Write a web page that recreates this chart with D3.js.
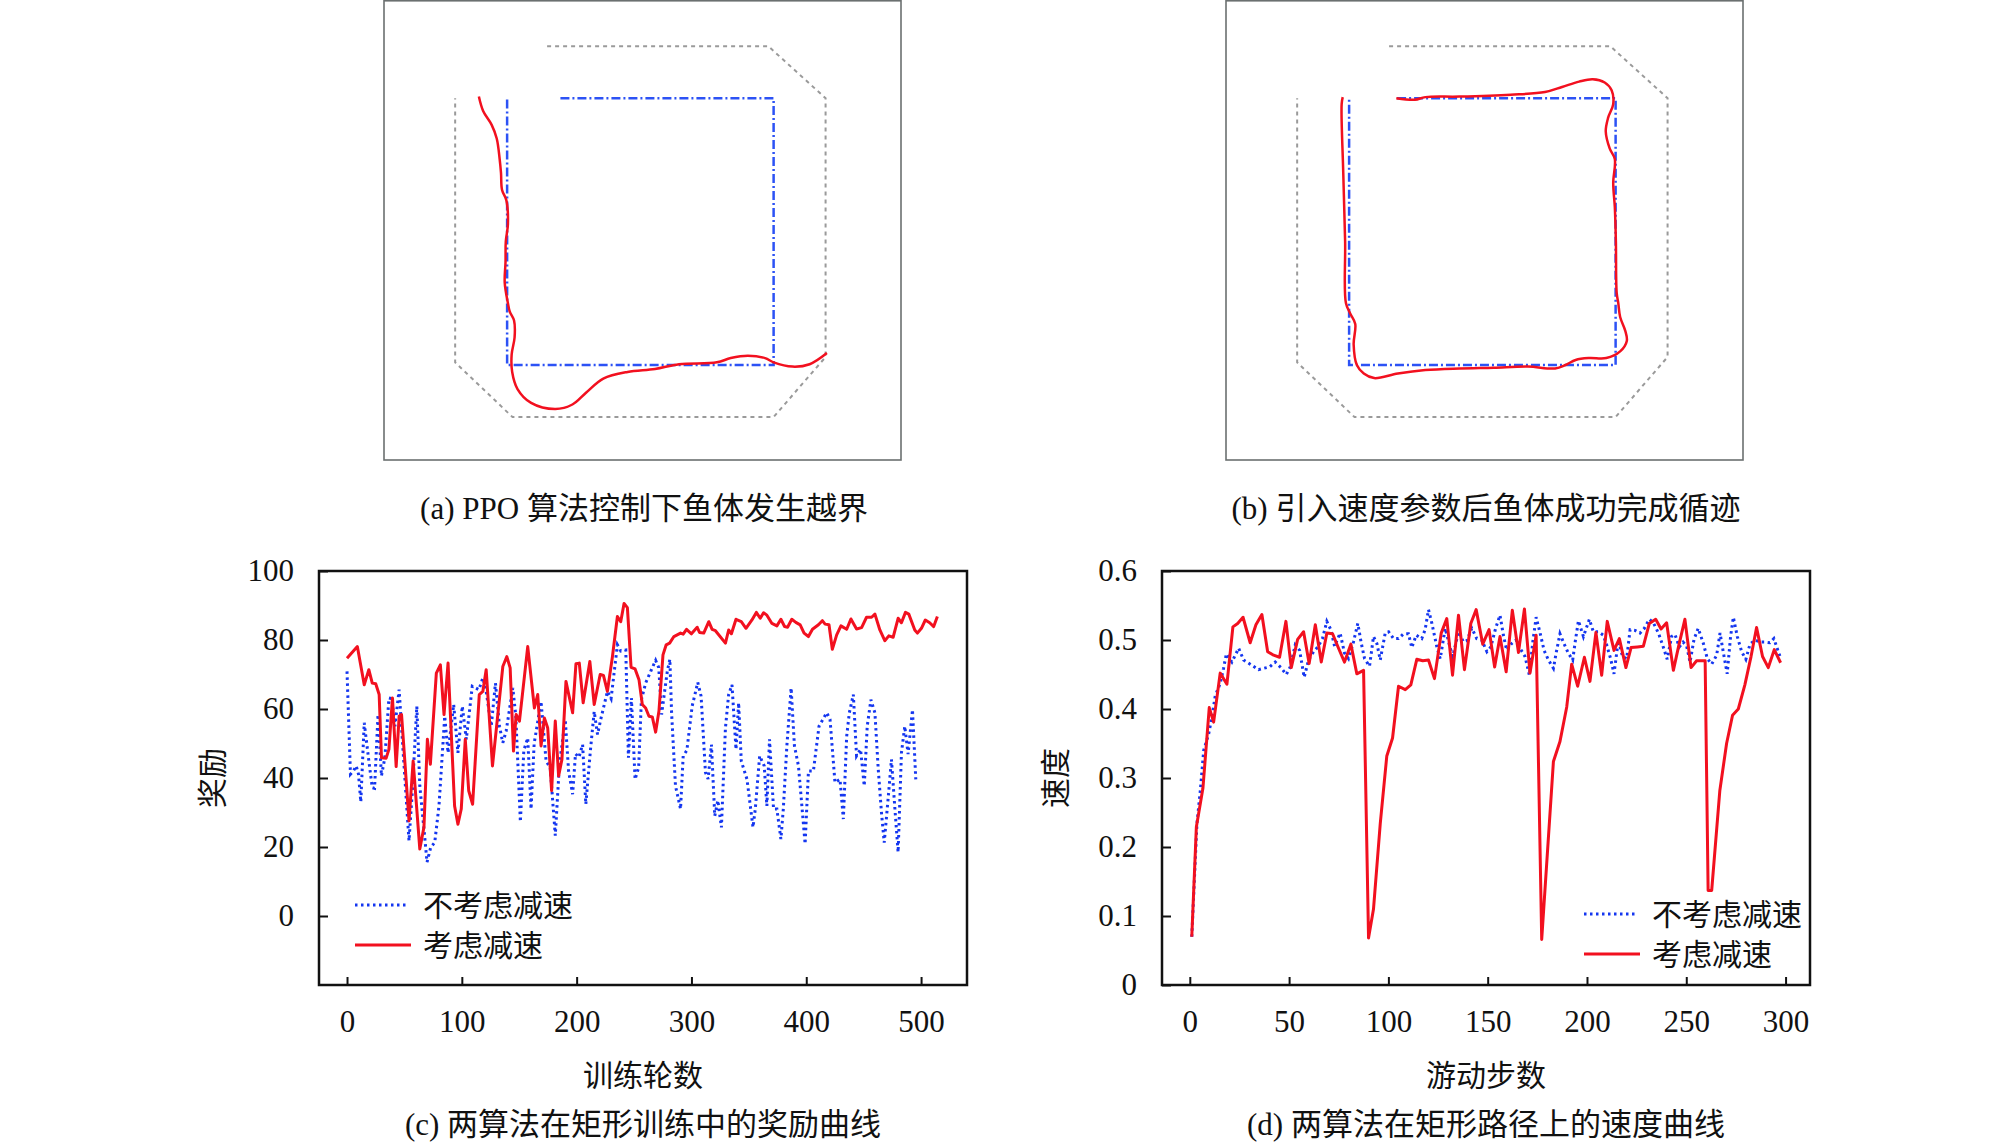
<!DOCTYPE html>
<html>
<head>
<meta charset="utf-8">
<script src="https://cdn.jsdelivr.net/npm/d3@7"></script>
<style>
  body { margin: 0; background: #fff; }
  text { font-family: "Liberation Serif", "Noto Sans CJK SC", serif; fill: #111; }
</style>
</head>
<body>
<div id="chart"></div>
<script>
// ---- track panels (a) and (b): square path units, y up ----
var boundary = [[1.5,11.95],[9.8,11.95],[11.95,10],[11.95,0.3],[10,-1.95],[0.2,-1.95],[-1.95,0.1],[-1.95,10]];
var guideA = [[2,10],[10,10],[10,0],[0,0],[0,10]];
var guideB = [[1.8,10],[10,10],[10,0],[0,0],[0,10]];

var trackA = [[-1.06,10.06],[-0.9,9.52],[-0.58,9.0],[-0.39,8.49],[-0.28,7.72],[-0.23,7.2],[-0.19,6.56],
  [-0.03,6.18],[0.03,5.28],[-0.05,4.63],[-0.06,3.86],[-0.09,3.09],[0.03,2.32],[0.10,2.0],[0.26,1.67],
  [0.28,1.03],[0.17,0.39],[0.19,-0.26],[0.39,-0.9],[0.9,-1.42],[1.81,-1.65],[2.45,-1.48],[2.97,-1.03],
  [3.61,-0.51],[4.52,-0.26],[5.55,-0.15],[6.45,0.03],[7.87,0.10],[8.39,0.26],[9.03,0.35],[9.68,0.26],
  [10.0,0.10],[10.71,-0.06],[11.35,0.03],[12.0,0.45]];

var trackB = [[-0.24,10.04],[-0.28,9.78],[-0.22,7.2],[-0.15,4.63],[-0.12,2.32],[0.04,1.93],[0.23,1.54],
  [0.17,0.77],[0.29,0.0],[0.55,-0.32],[0.94,-0.49],[1.83,-0.32],[2.86,-0.19],[4.14,-0.13],[5.42,-0.1],
  [6.71,-0.06],[7.73,-0.13],[8.12,0.0],[8.5,0.19],[9.01,0.26],[9.65,0.26],[10.17,0.51],[10.42,0.9],
  [10.36,1.29],[10.17,1.8],[10.1,2.32],[10.04,2.7],[10.01,4.63],[9.97,5.92],[9.91,6.82],[9.97,7.72],
  [9.78,8.11],[9.63,8.75],[9.72,9.27],[9.91,9.78],[9.85,10.3],[9.59,10.59],[9.14,10.71],[8.63,10.62],
  [7.99,10.42],[7.35,10.23],[6.06,10.13],[4.14,10.06],[2.86,10.04],[2.47,9.94],[1.77,10.0]];

// ---- chart (c): reward per training round ----
var rewardTicks = [0, 20, 40, 60, 80, 100];
var roundTicks = [0, 100, 200, 300, 400, 500];
var rewardPlain = [[0,70.9],[3,41.1],[5.5,42],[8,43.5],[10,41.1],[12,33.1],[15,56],[19,45],[22,37.2],[24,37],
  [27,58.4],[30,40.6],[33,46],[36.5,63.2],[39,63],[41.7,55],[45.4,65.6],[49,47],[54,21.8],[57,36.8],
  [60.8,60.8],[63.4,37.7],[67.7,22.8],[69.7,15.6],[72.9,19.9],[76.4,21.3],[80.1,31.9],[85.1,57.9],[88,47.3],
  [92.9,61.3],[96.6,47.3],[100.4,60.8],[103.9,51.2],[109.1,66.6],[114.9,65.6],[118.3,69],[121.2,65.1],
  [125.6,55],[129.3,67.5],[132.8,55],[135.7,50.2],[138.6,53.6],[144.4,66.1],[147,58],[151,27.3],[154,48],
  [157.4,51.6],[160.3,31],[163,50],[169,62.2],[173.4,44.9],[177,43],[181.4,23.3],[185,44],[190.1,56.9],
  [193,42],[196.5,35.3],[199,47],[202,46],[205.2,49.7],[208,32.4],[212,48],[215.3,59.3],[218.2,52.6],
  [221,57],[226.8,65.1],[230,63],[235.5,78.6],[238.4,76.8],[242.8,77.1],[245.1,45.9],[247.7,63.2],
  [250.9,39.6],[254,43],[256.4,62.7],[260.1,67.5],[264.5,70.9],[268.8,74.1],[271.5,72],[274,58.4],[277,66],
  [279,71],[281.2,74.4],[282.7,58.9],[286.1,37.7],[290.5,31],[292.8,46.4],[296,48],[300.6,60.8],[305.5,67.7],
  [308.4,63.7],[312.2,41.6],[314.5,39.7],[317.4,49.7],[320.3,29],[323,33.5],[326.1,25.7],[329.6,54.5],
  [332.4,64.2],[335.3,67],[338.8,48.3],[341.1,61.8],[343.4,44.9],[348.4,39.6],[353.6,25.7],[355.6,31],
  [359.4,46.4],[363.4,43.5],[365.7,31.9],[368,51.2],[371.5,31],[374.4,31],[377.9,22.3],[380,31],[383.1,49.3],
  [386.8,66.1],[389.7,49.3],[393.2,43.5],[399,20.9],[401.9,42],[406.2,42],[411.1,55],[417.8,58.9],[420.7,57],
  [425,38.7],[429.4,39.6],[432.3,28.1],[435.2,52.1],[437.5,58.9],[441,64.2],[443.8,46.4],[447.3,48.3],
  [450.5,37.7],[453.1,55],[456.3,62.7],[459.8,58.9],[462.7,42.5],[465.5,30],[467.9,21.3],[471.3,34],
  [474.2,45.4],[477,32],[480,18.5],[482.9,47.3],[485.8,55],[488.7,46.9],[492.5,59.8],[495.4,39.6]];
var rewardDecel = [[0,74.7],[9,78.1],[15,67.0],[19,71.4],[22,67.5],[25,67.3],[28,64.2],[30,45.9],[34,45.7],
  [36.5,48.3],[39.6,63.2],[42.8,43.3],[45.4,57.9],[47.5,58.4],[54,27.6],[57.6,44.9],[63.4,19.4],[67,25.7],
  [70,51.2],[72.6,44],[77.8,70.4],[81.3,72.8],[84.5,58.4],[88,73.3],[93.7,31.9],[96.6,26.6],[99.5,31],
  [103,51.2],[106,36.3],[109.4,32.4],[115.2,64.2],[118.3,65.1],[121.2,71.4],[126.7,43.5],[135.7,72.3],
  [139.2,75.2],[142.1,71.9],[145,47.8],[147.3,58.4],[150.2,56.5],[157.4,78.1],[163.2,60.3],[166.1,64.2],
  [169,49.3],[171.9,57.4],[174.8,54.5],[178.2,36.3],[181.4,56.5],[184.3,40.6],[187.2,45.4],[190.7,68],
  [196.5,58.9],[199.4,73.1],[202.3,73.3],[205.7,61.8],[211.5,73.8],[215.3,61.3],[220.5,70],[223.4,69.7],
  [226.8,65.1],[231.2,75.2],[235.5,86.8],[238.4,85.3],[241.3,90.6],[244.2,89.4],[247.4,72.1],[250.9,71.6],
  [254.3,68.5],[257.2,61.3],[260.1,60.3],[263,57.9],[265.9,57.7],[268.8,53.3],[271.7,59.4],[275.2,75.7],
  [278,78.6],[281,79.1],[284.7,81],[290.5,82],[292.8,81.7],[295.7,83.1],[300,81.8],[305,83.7],[307,82.2],
  [310.7,82],[315.1,85.3],[318,83.1],[320.9,82.7],[329.6,79.1],[332.4,82.9],[334.8,81.8],[338.8,86],
  [343.4,85.3],[347.5,83.4],[352.7,85.8],[356.5,88],[359.9,86.3],[362.8,87.9],[365.7,87.2],[370.1,84.8],
  [374.4,84.1],[377.9,86],[381.1,83.9],[383.7,83.7],[387.4,86],[390.9,85.1],[394.7,84.4],[398.1,82],
  [401.9,81],[405.4,83.1],[410.6,84.4],[414,85.6],[416.4,84.6],[419.8,84.4],[422.7,77.3],[426.5,81.5],
  [430.2,84.1],[435.2,83.1],[438.9,86.1],[443.8,83.2],[448.2,83.6],[452.5,86.6],[456.9,86.6],[459.8,87.5],
  [464.1,82.9],[468.4,79.8],[471.9,81.2],[475.7,80.8],[480,86.3],[482.9,85],[486.4,88],[489.3,87.5],
  [494.5,82.9],[496.8,82],[500.3,83.4],[503.7,85.8],[507.5,85],[511,83.9],[514.2,86.8]];

// ---- chart (d): speed per swimming step ----
var speedTicks = [0, 0.1, 0.2, 0.3, 0.4, 0.5, 0.6];
var stepTicks = [0, 50, 100, 150, 200, 250, 300];
var speedPlain = [[1,0.07],[3.6,0.234],[5.3,0.282],[7,0.34],[9.5,0.364],[11.2,0.389],[12.8,0.419],[15.3,0.437],
  [17,0.459],[18.4,0.48],[21.2,0.468],[22.9,0.478],[24.6,0.488],[27.1,0.471],[30.4,0.465],[34.6,0.457],
  [37.2,0.459],[40.2,0.461],[43,0.468],[45.9,0.46],[48.6,0.45],[50.6,0.461],[53.1,0.493],[55.3,0.485],
  [57.6,0.446],[59.8,0.471],[62.3,0.483],[64.5,0.49],[66.8,0.502],[69,0.527],[71,0.515],[72.9,0.491],
  [75.7,0.51],[77.9,0.481],[79.9,0.473],[82.4,0.497],[84.6,0.524],[86.3,0.496],[88,0.473],[90.5,0.462],
  [92.5,0.505],[94.2,0.495],[95.9,0.471],[98.4,0.51],[100.1,0.512],[102.6,0.502],[105.1,0.502],[107.6,0.509],
  [110.1,0.509],[111.8,0.489],[114,0.507],[116.8,0.502],[118.5,0.515],[120.2,0.544],[121.9,0.524],[124.4,0.49],
  [126.1,0.473],[128.6,0.517],[130.8,0.492],[132.4,0.476],[135.3,0.512],[137.8,0.497],[139.5,0.499],[142,0.517],
  [144.5,0.502],[147,0.5],[149.6,0.483],[151.6,0.49],[154,0.517],[156.2,0.536],[157.9,0.507],[159.6,0.485],
  [162.1,0.495],[164.3,0.5],[166.3,0.488],[168.8,0.476],[171,0.449],[172.7,0.497],[174.4,0.533],[176.4,0.51],
  [178.4,0.485],[180.6,0.471],[183.1,0.459],[184.4,0.48],[186.4,0.509],[188.4,0.495],[190.6,0.481],[192.8,0.471],
  [194.2,0.5],[195.7,0.528],[198.2,0.505],[201.2,0.53],[203.2,0.512],[205.7,0.512],[208.2,0.507],[209.9,0.493],
  [211.9,0.473],[213.6,0.451],[215.8,0.5],[217.9,0.476],[220,0.473],[221.7,0.515],[224.2,0.514],[226.7,0.51],
  [228.9,0.517],[231.4,0.53],[233.4,0.525],[236,0.51],[238.4,0.49],[240.4,0.472],[242.6,0.505],[244.3,0.508],
  [246.5,0.49],[248.4,0.497],[250.2,0.491],[251.9,0.468],[253.9,0.501],[256,0.517],[258.6,0.495],[260.6,0.473],
  [262.8,0.465],[265.3,0.478],[267,0.51],[268.6,0.483],[270.6,0.451],[272.3,0.505],[273.7,0.533],[275.7,0.505],
  [277.9,0.483],[280,0.472],[282.1,0.494],[284.6,0.5],[287.1,0.497],[289.6,0.497],[292.1,0.496],[294.1,0.502],
  [297.2,0.476]];
var speedDecel = [[1,0.07],[3.3,0.229],[6.6,0.285],[9.8,0.402],[12,0.381],[15.3,0.452],[18.7,0.436],[21.7,0.519],
  [24.1,0.524],[26.8,0.533],[30.4,0.496],[33.3,0.522],[36.3,0.537],[39.2,0.483],[42.2,0.478],[45.2,0.475],
  [48.4,0.527],[51.1,0.46],[54.3,0.501],[57.3,0.512],[60.1,0.466],[63.2,0.522],[66.2,0.468],[69,0.51],
  [71.9,0.509],[74.9,0.488],[77.9,0.468],[81.1,0.494],[84.1,0.451],[87.5,0.456],[90,0.068],[92.5,0.11],
  [95.9,0.234],[99.2,0.332],[102.1,0.358],[105.1,0.433],[108.5,0.428],[111.3,0.435],[114.3,0.472],[117.3,0.47],
  [120.2,0.471],[123.2,0.444],[126.6,0.51],[129.4,0.531],[132.3,0.449],[135.3,0.536],[138.3,0.457],[141.5,0.524],
  [144.2,0.544],[147.5,0.494],[150.7,0.515],[153.5,0.461],[156.2,0.505],[159.3,0.454],[162.4,0.543],[165.5,0.482],
  [168.5,0.545],[171.3,0.452],[174.4,0.507],[177.2,0.066],[183.1,0.324],[186.4,0.353],[189.8,0.403],[192.3,0.465],
  [195.3,0.433],[198.7,0.475],[201.5,0.44],[204.5,0.511],[207.4,0.449],[210.2,0.527],[213.6,0.485],[216.3,0.502],
  [219.6,0.46],[222.2,0.489],[225.4,0.49],[228.4,0.491],[231.4,0.524],[234.6,0.53],[237.3,0.516],[240.1,0.525],
  [243.5,0.456],[246.3,0.493],[249.3,0.53],[252.4,0.46],[255.2,0.47],[259.5,0.47],[261,0.137],[262.8,0.137],
  [266.9,0.282],[270.3,0.35],[273.3,0.391],[276.2,0.4],[279.5,0.435],[282.6,0.476],[285.4,0.518],[288.4,0.476],
  [291.3,0.46],[294.3,0.486],[297.5,0.467]];

var RED = "#f2101f", BLUE = "#1436f0";

var svg = d3.select("#chart").append("svg")
    .attr("width", 2008)
    .attr("height", 1145);
svg.append("rect").attr("width", 2008).attr("height", 1145).attr("fill", "#fff");

// draws one trajectory panel
function drawTrack(left, guide, track, caption) {
  var w = 517, h = 460;
  var x = d3.scaleLinear().domain([-4.62, 14.78]).range([left, left + w]);
  var y = d3.scaleLinear().domain([-3.56, 13.68]).range([h, 0]);
  var line = d3.line().x(function(d) { return x(d[0]); }).y(function(d) { return y(d[1]); });
  var g = svg.append("g");

  g.append("rect")
    .attr("x", left).attr("y", 0.8)
    .attr("width", w).attr("height", h - 0.8)
    .attr("fill", "#fff")
    .attr("stroke", "#6b7070").attr("stroke-width", 1.6);

  g.append("path")
    .attr("d", line(boundary))
    .attr("fill", "none").attr("stroke", "#9a9a9a")
    .attr("stroke-width", 2).attr("stroke-dasharray", "4,4");

  g.append("path")
    .attr("d", line(guide))
    .attr("fill", "none").attr("stroke", "#2c52f5")
    .attr("stroke-width", 2.5).attr("stroke-dasharray", "9,3,2,3");

  g.append("path")
    .attr("d", line.curve(d3.curveCatmullRom)(track))
    .attr("fill", "none").attr("stroke", RED)
    .attr("stroke-width", 2.5);

  g.append("text")
    .attr("x", left + 260).attr("y", 508).attr("dy", "0.35em")
    .attr("text-anchor", "middle").style("font-size", "31px")
    .text(caption);
}

// draws one line chart with two series
function drawChart(o) {
  var x = d3.scaleLinear().domain(o.xDomain).range([o.left, o.left + 648]);
  var y = d3.scaleLinear().domain(o.yDomain).range([985, 571]);
  var line = d3.line().x(function(d) { return x(d[0]); }).y(function(d) { return y(d[1]); });
  var g = svg.append("g");

  g.append("path")
    .attr("d", line(o.plain))
    .attr("fill", "none").attr("stroke", BLUE)
    .attr("stroke-width", 3).attr("stroke-dasharray", "2.5,3.5");

  g.append("path")
    .attr("d", line(o.decel))
    .attr("fill", "none").attr("stroke", RED)
    .attr("stroke-width", 3).attr("stroke-linejoin", "round");

  var yAxis = g.append("g")
    .attr("transform", "translate(" + o.left + ",0)")
    .call(d3.axisLeft(y).tickValues(o.yTicks).tickSizeInner(-9).tickSizeOuter(0).tickPadding(25)
      .tickFormat(o.yFormat));
  var xAxis = g.append("g")
    .attr("transform", "translate(0,985)")
    .call(d3.axisBottom(x).tickValues(o.xTicks).tickSizeInner(-8).tickSizeOuter(0).tickPadding(25));
  [yAxis, xAxis].forEach(function(a) {
    a.select(".domain").remove();
    a.selectAll(".tick line").attr("stroke", "#111").attr("stroke-width", 2);
    a.selectAll(".tick text").style("font-size", "31px").style("font-family", "Liberation Serif").attr("fill", "#111");
  });

  g.append("rect")
    .attr("x", o.left).attr("y", 571)
    .attr("width", 648).attr("height", 414)
    .attr("fill", "none").attr("stroke", "#111").attr("stroke-width", 2.5);

  // legend
  var lg = g.append("g");
  lg.append("line")
    .attr("x1", o.legX).attr("x2", o.legX + 54).attr("y1", o.legY).attr("y2", o.legY)
    .attr("stroke", BLUE).attr("stroke-width", 3).attr("stroke-dasharray", "2.5,3.5");
  lg.append("line")
    .attr("x1", o.legX).attr("x2", o.legX + 56).attr("y1", o.legY + 40).attr("y2", o.legY + 40)
    .attr("stroke", RED).attr("stroke-width", 3);
  lg.append("text")
    .attr("x", o.legX + 68).attr("y", o.legY).attr("dy", "0.35em")
    .style("font-size", "30px").text("不考虑减速");
  lg.append("text")
    .attr("x", o.legX + 68).attr("y", o.legY + 40).attr("dy", "0.35em")
    .style("font-size", "30px").text("考虑减速");

  var cx = o.left + 324;
  g.append("text")
    .attr("x", cx).attr("y", 1075).attr("dy", "0.35em")
    .attr("text-anchor", "middle").style("font-size", "30px")
    .text(o.xLabel);
  g.append("text")
    .attr("transform", "translate(" + (o.left - 107) + ",778) rotate(-90)")
    .attr("dy", "0.35em")
    .attr("text-anchor", "middle").style("font-size", "30px")
    .text(o.yLabel);
  g.append("text")
    .attr("x", cx).attr("y", 1124).attr("dy", "0.35em")
    .attr("text-anchor", "middle").style("font-size", "31px")
    .text(o.caption);
}

drawTrack(384, guideA, trackA, "(a) PPO 算法控制下鱼体发生越界");
drawTrack(1226, guideB, trackB, "(b) 引入速度参数后鱼体成功完成循迹");

drawChart({
  left: 319, xDomain: [-24.4, 540], yDomain: [-20, 100],
  xTicks: roundTicks, yTicks: rewardTicks, yFormat: d3.format("d"),
  plain: rewardPlain, decel: rewardDecel,
  legX: 355, legY: 905,
  xLabel: "训练轮数", yLabel: "奖励",
  caption: "(c) 两算法在矩形训练中的奖励曲线"
});

drawChart({
  left: 1162, xDomain: [-14, 312.3], yDomain: [0, 0.6],
  xTicks: stepTicks, yTicks: speedTicks,
  yFormat: function(d) { return d === 0 ? "0" : d3.format(".1f")(d); },
  plain: speedPlain, decel: speedDecel,
  legX: 1584, legY: 914,
  xLabel: "游动步数", yLabel: "速度",
  caption: "(d) 两算法在矩形路径上的速度曲线"
});
</script>
</body>
</html>
